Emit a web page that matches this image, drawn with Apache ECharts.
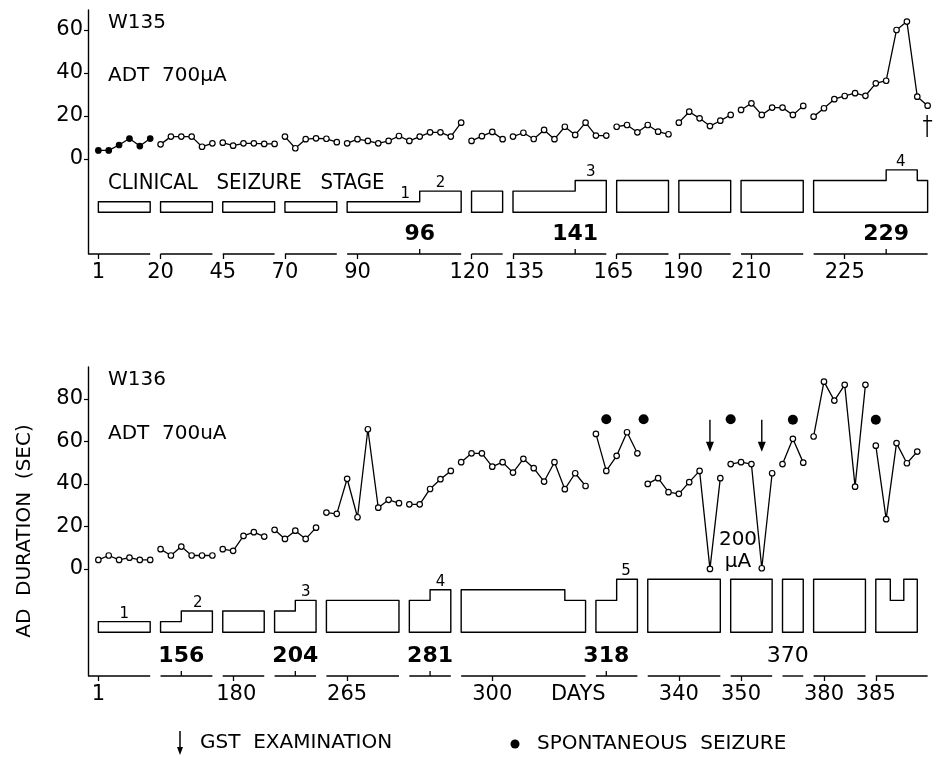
<!DOCTYPE html>
<html><head><meta charset="utf-8">
<script src="https://cdn.jsdelivr.net/npm/echarts@6/dist/echarts.min.js"></script>
<style>html,body{margin:0;padding:0;background:#fff}#c{width:940px;height:757px}</style>
</head><body><div id="c"></div>
<script>
// ================= DATA =================
// Sessions are plotted in order (one slot per ADT session); each inner array is a run of consecutive sessions.
// W135: AD duration (sec)
const w135Segments = [
  [4, 4, 6.5, 9.5, 6, 9.5],
  [6.8, 10.4, 10.4, 10.4, 5.7, 7.3],
  [7.6, 6.2, 7.3, 7.3, 7, 7],
  [10.4, 5, 9.2, 9.6, 9.4, 7.8],
  [7.3, 9.2, 8.4, 7.3, 8.4, 10.7, 8.4, 10.4, 12.4, 12.4, 10.4, 16.9],
  [8.4, 10.6, 12.6, 9.2],
  [10.4, 12.2, 9.3, 13.5, 9.2, 15, 11.2, 16.9, 10.9, 10.9],
  [15, 15.8, 12.4, 15.8, 12.7, 11.5],
  [16.9, 22, 18.9, 15.3, 17.8, 20.5],
  [22.8, 25.9, 20.5, 23.9, 23.9, 20.5, 24.7],
  [19.7, 23.6, 27.8, 29.3, 30.6, 29.4, 35.2, 36.4, 60, 63.9, 29, 24.8]
];
// W136: AD duration (sec)
const w136Segments = [
  [4.2, 6.3, 4.2, 5.3, 4.2, 4.2],
  [9.3, 6.3, 10.5, 6.3, 6.3, 6.3],
  [9.3, 8.5, 15.5, 17.3, 15.2],
  [18.4, 14.1, 18, 14.1, 19.4],
  [26.5, 25.9, 42.4, 24.3, 65.7, 28.8, 32.5, 30.9],
  [30.4, 30.4, 37.6, 42.2, 46.1],
  [50.2, 54.4, 54.4, 48.1, 50.2, 45.3, 51.8, 47.4, 41.1, 50.2, 37.5, 45, 39],
  [63.5, 46.1, 53.2, 64.3, 54.4],
  [40, 42.7, 36.1, 35.3, 40.8, 46.1, 0, 42.7],
  [49.3, 50.2, 49.3, 0.3, 45],
  [49.3, 61.2, 50],
  [62.3, 88.1, 79.2, 86.6, 38.7, 86.6],
  [58, 23.4, 59.2, 49.7, 55.2]
];

// Clinical seizure stage per run: pieces [fromSlot, toSlot, stage]
const w135Stages = [
  [[0, 5, 1]], [[6, 11, 1]], [[12, 17, 1]], [[18, 23, 1]],
  [[24, 31, 1], [31, 35, 2]], [[36, 39, 2]], [[40, 46, 2], [46, 49, 3]],
  [[50, 55, 3]], [[56, 61, 3]], [[62, 68, 3]],
  [[69, 76, 3], [76, 79, 4], [79, 80, 3]]
];
const w136Stages = [
  [[0, 5, 1]], [[6, 8, 1], [8, 11, 2]], [[12, 16, 2]], [[17, 19, 2], [19, 21, 3]],
  [[22, 29, 3]], [[30, 32, 3], [32, 34, 4]], [[35, 45, 4], [45, 47, 3]],
  [[48, 50, 3], [50, 52, 5]], [[53, 60, 5]], [[61, 65, 5]], [[66, 68, 5]],
  [[69, 74, 5]], [[75, 76.4, 5], [76.4, 77.7, 3], [77.7, 79, 5]]
];
const w135StageLabelSlots = [29.6, 33, 47.5, 77.4];
const w135StageLabelValues = [1, 2, 3, 4];
const w136StageLabelSlots = [2.5, 9.6, 20, 33, 50.9];
const w136StageLabelValues = [1, 2, 3, 4, 5];

// Day ticks (below axis) with their labels, and stage-onset days (bold, above axis)
const w135TickSlots = [0, 6, 12, 18, 25, 36, 40, 50, 56, 63, 72];
const w135DayLabelSlots = [0, 6, 12, 18, 25, 35.8, 41.1, 49.7, 56.4, 63, 72];
const w135DayLabels = ['1', '20', '45', '70', '90', '120', '135', '165', '190', '210', '225'];
const w135OnsetSlots = [31, 46, 76];
const w135OnsetLabels = ['96', '141', '229'];
const w136TickSlots = [0, 13, 24, 38, 56, 62, 70, 75];
const w136DayLabelSlots = [0, 13.3, 24, 38, 46.3, 56, 62, 70, 75];
const w136DayLabels = ['1', '180', '265', '300', 'DAYS', '340', '350', '380', '385'];
const w136OnsetSlots = [8, 19, 32, 49];
const w136OnsetLabels = ['156', '204', '281', '318'];
const w136MarkSlots = [66.5];
const w136MarkLabels = ['370'];

// Events (W136)
const seizureSlots = [49, 52.6, 61, 67, 75];
const seizureLevel = [70.4, 70.4, 70.4, 70.2, 70.2];
const gstSlots = [59, 64];
const gstLevel = [62.6, 62.6];
// Death (W135)
const deathSlot = [80];
const deathLevel = [15.3];

// ================= LAYOUT =================
const FONT = '"DejaVu Sans", "Liberation Sans", sans-serif';
const NARROW = '"Liberation Sans Narrow", "DejaVu Sans Condensed", "DejaVu Sans", sans-serif';
const X_MIN = -1, X_MAX = 81;
const Y0 = { min: -44.2, max: 69.3, base: -24.8, unit: 4.93 };
const Y1 = { min: -50.4, max: 95, base: -29.8, unit: 4.99 };

function toPoints(segs) {
  let s = 0; const out = [];
  segs.forEach(v => { out.push(v.map((y, i) => [s + i, y])); s += v.length; });
  return out;
}
const w135Pts = toPoints(w135Segments);
const w136Pts = toPoints(w136Segments);

function lineSeries(pts, ax, filledFirst) {
  return pts.map((p, k) => ({
    type: 'line', xAxisIndex: ax, yAxisIndex: ax, data: p,
    symbol: 'circle', symbolSize: 5.5, showSymbol: true, silent: true, z: 5,
    lineStyle: { color: '#000', width: 1.3 },
    itemStyle: { color: (filledFirst && k === 0) ? '#000' : '#fff', borderColor: '#000', borderWidth: 1.2, opacity: 1 }
  }));
}

function axisSegSeries(pts, ax, yMin, lastExtra) {
  const data = pts.map((p, k) => [k === 0 ? X_MIN + 0.05 : p[0][0],
    p[p.length - 1][0] + (k === pts.length - 1 ? lastExtra : 0), yMin]);
  return {
    type: 'custom', xAxisIndex: ax, yAxisIndex: ax, silent: true, clip: false,
    encode: { x: [0, 1], y: 2 }, data,
    renderItem: (params, api) => {
      const a = api.coord([api.value(0), api.value(2)]);
      const b = api.coord([api.value(1), api.value(2)]);
      return { type: 'line', shape: { x1: a[0], y1: a[1], x2: b[0], y2: b[1] },
        style: { stroke: '#000', lineWidth: 1.4 } };
    }
  };
}

function onsetSeries(slots, labels, ax, yMin, bold, tick) {
  return {
    type: 'custom', xAxisIndex: ax, yAxisIndex: ax, silent: true, clip: false,
    encode: { x: 0, y: 1 }, data: slots.map((s, i) => [s, yMin, i]),
    renderItem: (params, api) => {
      const p = api.coord([api.value(0), api.value(1)]);
      const ch = [{ type: 'text', x: p[0], y: p[1] - 20,
        style: { text: labels[api.value(2)], font: (bold ? 'bold ' : '') + '22px ' + FONT, fill: '#000',
          textAlign: 'center', textVerticalAlign: 'middle', align: 'center', verticalAlign: 'middle' } }];
      if (tick) ch.push({ type: 'line', shape: { x1: p[0], y1: p[1], x2: p[0], y2: p[1] - 5 },
        style: { stroke: '#000', lineWidth: 1.3 } });
      return { type: 'group', children: ch };
    }
  };
}

function stageSeries(boxes, ax, cfg) {
  return {
    type: 'custom', xAxisIndex: ax, yAxisIndex: ax, silent: true, clip: false,
    encode: { x: [0, 1], y: 2 },
    data: boxes.map((b, i) => [b[0][0], b[b.length - 1][1], cfg.base, i]),
    renderItem: (params, api) => {
      const pieces = boxes[api.value(3)];
      const pts = [api.coord([pieces[0][0], cfg.base])];
      pieces.forEach(pc => {
        const v = cfg.base + pc[2] * cfg.unit;
        pts.push(api.coord([pc[0], v]));
        pts.push(api.coord([pc[1], v]));
      });
      pts.push(api.coord([pieces[pieces.length - 1][1], cfg.base]));
      return { type: 'polygon', shape: { points: pts },
        style: { fill: 'none', stroke: '#000', lineWidth: 1.4, lineJoin: 'round' } };
    }
  };
}

function stageLabelSeries(slots, values, ax, cfg) {
  return {
    type: 'custom', xAxisIndex: ax, yAxisIndex: ax, silent: true, clip: false,
    encode: { x: 0, y: 1 },
    data: slots.map((s, i) => [s, cfg.base + values[i] * cfg.unit, values[i]]),
    renderItem: (params, api) => {
      const p = api.coord([api.value(0), api.value(1)]);
      return { type: 'text', x: p[0], y: p[1] - 8,
        style: { text: String(api.value(2)), font: '15px ' + FONT, fill: '#000',
          textAlign: 'center', textVerticalAlign: 'middle', align: 'center', verticalAlign: 'middle' } };
    }
  };
}

function xAxisCfg(grid, tickSlots, labelSlots, labels) {
  return {
    gridIndex: grid, type: 'value', min: X_MIN, max: X_MAX,
    axisLine: { show: false, onZero: false },
    axisTick: { show: true, customValues: tickSlots, length: 5, lineStyle: { color: '#000', width: 1.3 } },
    axisLabel: { show: true, customValues: labelSlots, color: '#000', fontSize: 21, fontFamily: FONT, margin: 8,
      formatter: v => { const i = labelSlots.indexOf(v); return i >= 0 ? labels[i] : ''; } },
    splitLine: { show: false }
  };
}
function yAxisCfg(grid, cfg, ticks) {
  return {
    gridIndex: grid, type: 'value', min: cfg.min, max: cfg.max,
    axisLine: { show: true, onZero: false, lineStyle: { color: '#000', width: 1.4 } },
    axisTick: { show: true, customValues: ticks, length: 4, lineStyle: { color: '#000', width: 1.2 } },
    axisLabel: { show: true, customValues: ticks, color: '#000', fontSize: 21, fontFamily: FONT, margin: 5 },
    splitLine: { show: false }
  };
}

const series = [].concat(
  lineSeries(w135Pts, 0, true),
  lineSeries(w136Pts, 1, false),
  [
    axisSegSeries(w135Pts, 0, Y0.min, 0),
    axisSegSeries(w136Pts, 1, Y1.min, 1),
    onsetSeries(w135OnsetSlots, w135OnsetLabels, 0, Y0.min, true, true),
    onsetSeries(w136OnsetSlots, w136OnsetLabels, 1, Y1.min, true, true),
    onsetSeries(w136MarkSlots, w136MarkLabels, 1, Y1.min, false, false),
    stageSeries(w135Stages, 0, Y0),
    stageSeries(w136Stages, 1, Y1),
    stageLabelSeries(w135StageLabelSlots, w135StageLabelValues, 0, Y0),
    stageLabelSeries(w136StageLabelSlots, w136StageLabelValues, 1, Y1),
    { type: 'scatter', xAxisIndex: 1, yAxisIndex: 1, silent: true, symbol: 'circle', symbolSize: 10,
      itemStyle: { color: '#000', opacity: 1 }, data: seizureSlots.map((s, i) => [s, seizureLevel[i]]) },
    { type: 'scatter', xAxisIndex: 1, yAxisIndex: 1, silent: true, symbolSize: [8, 32],
      symbol: 'path://M3.3,0 L4.7,0 L4.7,22 L8,22 L4,32 L0,22 L3.3,22 Z',
      itemStyle: { color: '#000', opacity: 1 }, data: gstSlots.map((s, i) => [s, gstLevel[i]]) },
    { type: 'scatter', xAxisIndex: 0, yAxisIndex: 0, silent: true, symbolSize: [9, 22],
      symbol: 'path://M3.3,0 L4.7,0 L4.7,5 L9,5 L9,6.5 L4.7,6.5 L4.7,22 L3.3,22 L3.3,6.5 L0,6.5 L0,5 L3.3,5 Z',
      itemStyle: { color: '#000', opacity: 1 }, data: deathSlot.map((s, i) => [s, deathLevel[i]]) }
  ]
);

function txt(x, y, text, size, extra) {
  return Object.assign({ type: 'text', x, y, silent: true,
    style: { text, font: size + 'px ' + FONT, fill: '#000', textAlign: 'left', textVerticalAlign: 'middle' } }, extra || {});
}

const chart = echarts.init(document.getElementById('c'), null, { renderer: 'canvas' });
chart.setOption({
  animation: false,
  backgroundColor: '#fff',
  grid: [
    { left: 88, width: 850, top: 10, height: 244 },
    { left: 88, width: 850, top: 367, height: 309 }
  ],
  xAxis: [
    xAxisCfg(0, w135TickSlots, w135DayLabelSlots, w135DayLabels),
    xAxisCfg(1, w136TickSlots, w136DayLabelSlots, w136DayLabels)
  ],
  yAxis: [
    yAxisCfg(0, Y0, [0, 20, 40, 60]),
    yAxisCfg(1, Y1, [0, 20, 40, 60, 80])
  ],
  series,
  graphic: [
    txt(108, 23, 'W135', 20),
    txt(108, 76, 'ADT  700\u03bcA', 20),
    { type: 'text', x: 108, y: 183, silent: true,
      style: { text: 'CLINICAL   SEIZURE   STAGE', font: '22px ' + NARROW, fill: '#000', textAlign: 'left', textVerticalAlign: 'middle' } },
    txt(108, 380, 'W136', 20),
    txt(108, 434, 'ADT  700uA', 20),
    { type: 'text', x: 25, y: 531, rotation: Math.PI / 2, silent: true,
      style: { text: 'AD  DURATION  (SEC)', font: '20px ' + FONT, fill: '#000', textAlign: 'center', textVerticalAlign: 'middle' } },
    { type: 'text', x: 738, y: 540, silent: true,
      style: { text: '200', font: '20px ' + FONT, fill: '#000', textAlign: 'center', textVerticalAlign: 'middle' } },
    { type: 'text', x: 738, y: 562, silent: true,
      style: { text: '\u03bcA', font: '20px ' + FONT, fill: '#000', textAlign: 'center', textVerticalAlign: 'middle' } },
    { type: 'line', silent: true, shape: { x1: 180, y1: 731, x2: 180, y2: 748 }, style: { stroke: '#000', lineWidth: 1.5 } },
    { type: 'polygon', silent: true, shape: { points: [[177, 747], [183, 747], [180, 755]] }, style: { fill: '#000' } },
    txt(200, 743, 'GST  EXAMINATION', 20),
    { type: 'circle', silent: true, shape: { cx: 515, cy: 744, r: 4.5 }, style: { fill: '#000' } },
    txt(537, 744, 'SPONTANEOUS  SEIZURE', 20)
  ]
});
</script></body></html>
